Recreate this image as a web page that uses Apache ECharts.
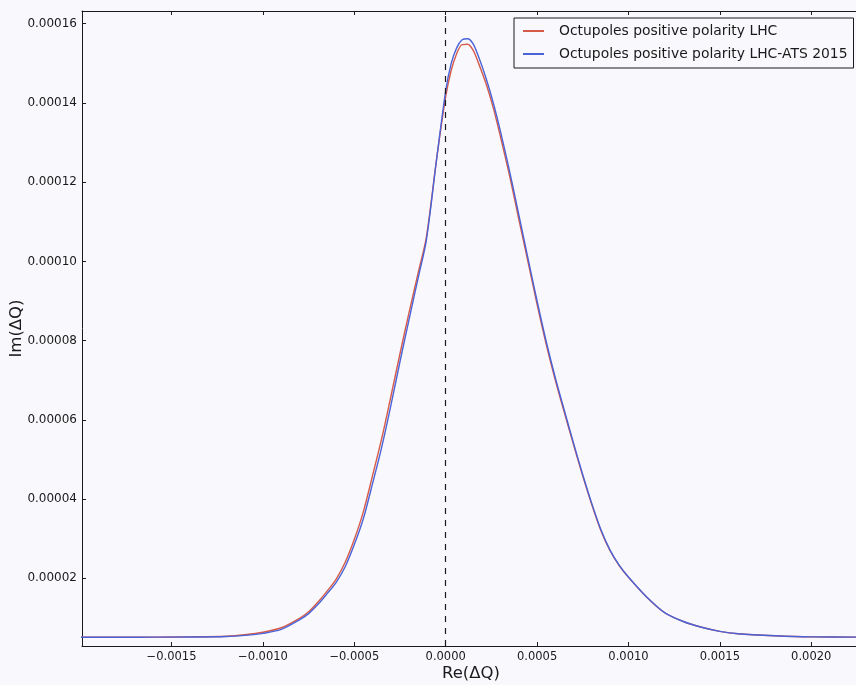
<!DOCTYPE html>
<html>
<head>
<meta charset="utf-8">
<script src="https://cdn.jsdelivr.net/npm/echarts@6/dist/echarts.min.js"></script>
<style>
  html, body { margin: 0; padding: 0; background: #f9f9fd; }
  #chart { width: 856px; height: 685px; }
</style>
</head>
<body>
<div id="chart"></div>
<script>
// Real part of the tune shift, Re(ΔQ)
const reDQ = [
  -0.0020, -0.0018, -0.0016, -0.0014, -0.0012, -0.0011, -0.0010, -0.0009,
  -0.0008, -0.00075, -0.0007, -0.00065, -0.0006, -0.00055, -0.0005, -0.00045,
  -0.0004, -0.00035, -0.0003, -0.00025, -0.0002, -0.00015, -0.000106, -0.00005,
  0.0, 0.00003, 0.00006, 0.00009, 0.00012, 0.00015, 0.00018, 0.00022,
  0.00026, 0.0003, 0.00035, 0.0004, 0.00045, 0.0005, 0.00055, 0.0006,
  0.00065, 0.0007, 0.00075, 0.0008, 0.00085, 0.0009, 0.00095, 0.001,
  0.0011, 0.0012, 0.0013, 0.0014, 0.0015, 0.0016, 0.0018, 0.0020, 0.00225
];

// Im(ΔQ), octupoles positive polarity, LHC optics
const imLHC = [
  5.12e-6, 5.12e-6, 5.17e-6, 5.22e-6, 5.37e-6, 5.75e-6, 6.38e-6, 7.52e-6,
  9.91e-6, 1.155e-5, 1.395e-5, 1.672e-5, 1.975e-5, 2.404e-5, 2.984e-5, 3.69e-5,
  4.598e-5, 5.531e-5, 6.59e-5, 7.675e-5, 8.721e-5, 9.722e-5, 1.0608e-4, 1.2575e-4,
  1.4156e-4, 1.4817e-4, 1.5243e-4, 1.5473e-4, 1.548e-4, 1.533e-4, 1.4998e-4, 1.4494e-4,
  1.388e-4, 1.314e-4, 1.215e-4, 1.1064e-4, 9.995e-5, 8.918e-5, 7.909e-5, 7.001e-5,
  6.169e-5, 5.362e-5, 4.58e-5, 3.849e-5, 3.193e-5, 2.689e-5, 2.315e-5, 2.025e-5,
  1.523e-5, 1.125e-5, 9.1e-6, 7.64e-6, 6.61e-6, 6.0e-6, 5.5e-6, 5.22e-6, 5.17e-6
];

// Im(ΔQ), octupoles positive polarity, LHC-ATS 2015 optics
const imATS = [
  5.12e-6, 5.12e-6, 5.15e-6, 5.18e-6, 5.3e-6, 5.6e-6, 6.1e-6, 7.1e-6,
  9.53e-6, 1.11e-5, 1.337e-5, 1.607e-5, 1.894e-5, 2.293e-5, 2.852e-5, 3.518e-5,
  4.396e-5, 5.314e-5, 6.363e-5, 7.473e-5, 8.545e-5, 9.596e-5, 1.0532e-4, 1.2567e-4,
  1.4307e-4, 1.499e-4, 1.539e-4, 1.5593e-4, 1.5619e-4, 1.549e-4, 1.5165e-4, 1.4635e-4,
  1.4005e-4, 1.3274e-4, 1.2265e-4, 1.118e-4, 1.0083e-4, 9.0e-5, 7.977e-5, 7.057e-5,
  6.224e-5, 5.405e-5, 4.615e-5, 3.879e-5, 3.218e-5, 2.706e-5, 2.328e-5, 2.035e-5,
  1.53e-5, 1.128e-5, 9.1e-6, 7.64e-6, 6.61e-6, 6.0e-6, 5.5e-6, 5.22e-6, 5.17e-6
];

const seriesNames = [
  'Octupoles positive polarity LHC',
  'Octupoles positive polarity LHC-ATS 2015'
];

// Tick positions
const xTicks = [-0.0015, -0.0010, -0.0005, 0.0, 0.0005, 0.0010, 0.0015, 0.0020];
const yTicks = [0.00002, 0.00004, 0.00006, 0.00008, 0.00010, 0.00012, 0.00014, 0.00016];

const X_MIN = -0.00199, X_MAX = 0.002245;
const Y_MIN = 0.00000292, Y_MAX = 0.0001632;

const FONT = 'DejaVu Sans';
const INK = '#1a1a1a';
const BG = '#f9f9fd';

const pairs = ys => reDQ.map((x, i) => [x, ys[i]]);
const fmtX = v => (v < 0 ? '\u2212' : '') + Math.abs(v).toFixed(4);
const fmtY = v => v.toFixed(5);

const spine = { show: true, onZero: false, lineStyle: { color: INK, width: 1 } };
const inTick = vals => ({ show: true, inside: true, length: 4, customValues: vals, lineStyle: { color: INK, width: 1 } });

const chart = echarts.init(document.getElementById('chart'), null, { renderer: 'canvas' });
chart.setOption({
  animation: false,
  backgroundColor: BG,
  textStyle: { fontFamily: FONT },
  grid: { left: 82, right: 0, top: 11, bottom: 39, containLabel: false, outerBoundsMode: 'none' },
  legend: {
    orient: 'vertical',
    left: 514,
    top: 18,
    padding: [5, 6, 6, 9],
    itemGap: 7,
    itemWidth: 21,
    itemHeight: 2,
    icon: 'rect',
    borderColor: INK,
    borderWidth: 1,
    borderRadius: 0,
    backgroundColor: BG,
    textStyle: { fontFamily: FONT, fontSize: 13.9, color: INK, padding: [0, 0, 0, 10], lineHeight: 16 },
    data: seriesNames
  },
  xAxis: [
    {
      type: 'value', position: 'bottom', min: X_MIN, max: X_MAX,
      name: 'Re(\u0394Q)', nameLocation: 'middle', nameGap: 19, nameMoveOverlap: false,
      nameTextStyle: { fontFamily: FONT, fontSize: 16.5, color: INK, padding: [0, 0, 0, 4] },
      axisLine: spine,
      axisTick: inTick(xTicks),
      axisLabel: { customValues: xTicks, formatter: fmtX, margin: 5, fontFamily: FONT, fontSize: 11.5, color: INK },
      splitLine: { show: false }
    },
    {
      type: 'value', position: 'top', min: X_MIN, max: X_MAX,
      axisLine: spine,
      axisTick: inTick(xTicks),
      axisLabel: { show: false },
      splitLine: { show: false }
    }
  ],
  yAxis: {
    type: 'value', min: Y_MIN, max: Y_MAX,
    name: 'Im(\u0394Q)', nameLocation: 'middle', nameGap: 57, nameMoveOverlap: false,
    nameTextStyle: { fontFamily: FONT, fontSize: 16.5, color: INK },
    axisLine: spine,
    axisTick: inTick(yTicks),
    axisLabel: { customValues: yTicks, formatter: fmtY, margin: 5, fontFamily: FONT, fontSize: 12, color: INK },
    splitLine: { show: false }
  },
  series: [
    {
      name: seriesNames[0], type: 'line', xAxisIndex: 0,
      data: pairs(imLHC), showSymbol: false, symbol: 'none',
      smooth: 0.3,
      color: '#d65a48', lineStyle: { color: '#d65a48', width: 1.4 },
      markLine: {
        silent: true, symbol: 'none', label: { show: false },
        lineStyle: { type: [6, 6], color: INK, width: 1.2 },
        data: [{ xAxis: 0 }]
      },
      z: 2
    },
    {
      name: seriesNames[1], type: 'line', xAxisIndex: 0,
      data: pairs(imATS), showSymbol: false, symbol: 'none',
      smooth: 0.3,
      color: '#4a63d8', lineStyle: { color: '#4a63d8', width: 1.4 },
      z: 3
    }
  ]
});
</script>
</body>
</html>
